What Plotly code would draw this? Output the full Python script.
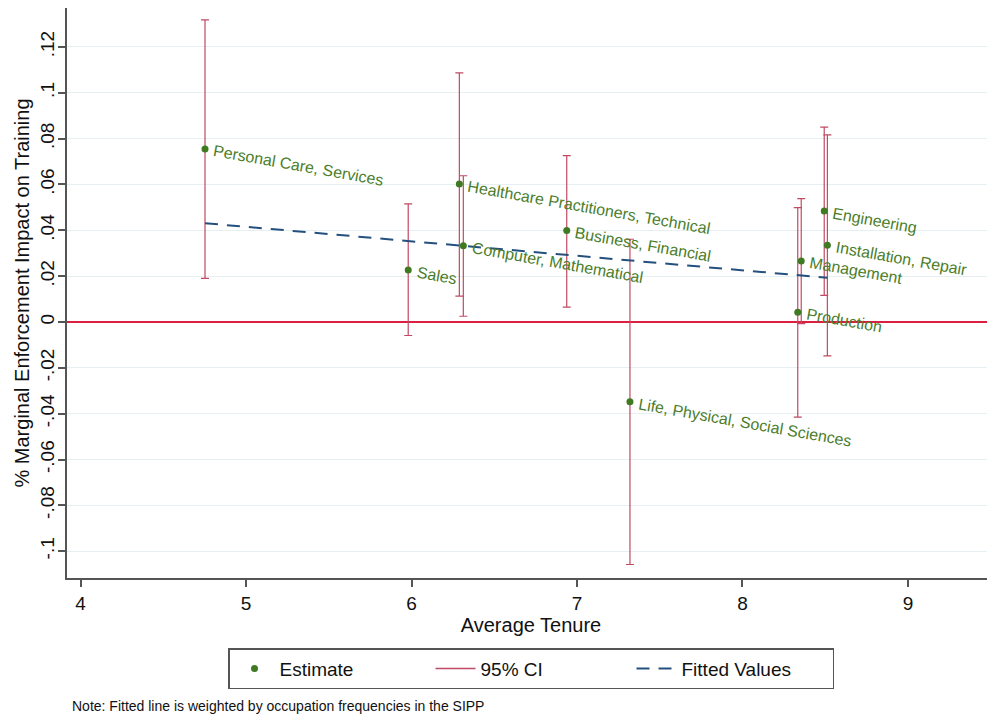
import plotly.graph_objects as go

occupations = ["Personal Care, Services", "Sales", "Healthcare Practitioners, Technical",
               "Computer, Mathematical", "Business, Financial", "Life, Physical, Social Sciences",
               "Production", "Management", "Engineering", "Installation, Repair"]
tenure = [4.752, 5.98, 6.289, 6.313, 6.938, 7.32, 8.334, 8.355, 8.494, 8.513]
estimate = [0.0755, 0.0227, 0.0602, 0.0333, 0.0399, -0.0348, 0.0042, 0.0266, 0.0484, 0.0335]
ci_low = [0.0190, -0.0059, 0.0113, 0.0025, 0.0065, -0.1058, -0.0415, -0.0007, 0.0116, -0.0148]
ci_high = [0.1318, 0.0515, 0.1087, 0.0638, 0.0726, 0.0361, 0.0499, 0.0538, 0.0850, 0.0816]
fit_x = [4.752, 8.513]
fit_y = [0.0431, 0.0193]

y_ticks = [-0.1, -0.08, -0.06, -0.04, -0.02, 0, 0.02, 0.04, 0.06, 0.08, 0.1, 0.12]
y_ticktext = ["-.1", "-.08", "-.06", "-.04", "-.02", "0", ".02", ".04", ".06", ".08", ".1", ".12"]
x_ticks = [4, 5, 6, 7, 8, 9]

FONT = "Liberation Sans, Arial, Helvetica, sans-serif"
GREEN = "#3f7a22"
LABEL_GREEN = "#4a7d2a"
CI_COLOR = "#c04a64"
FIT_COLOR = "#23507e"

fig = go.Figure()

# CI caps (rcap)
fig.add_trace(go.Scatter(
    x=tenure, y=estimate, mode="markers",
    marker=dict(size=1, opacity=0),
    error_y=dict(type="data", symmetric=False,
                 array=[h - e for h, e in zip(ci_high, estimate)],
                 arrayminus=[e - l for e, l in zip(estimate, ci_low)],
                 color=CI_COLOR, thickness=1.2, width=4),
    showlegend=False, hoverinfo="skip"))

fig.add_trace(go.Scatter(
    x=tenure, y=estimate, mode="markers", name="Estimate",
    marker=dict(color=GREEN, size=7)))
fig.add_trace(go.Scatter(
    x=[None], y=[None], mode="lines", name="95% CI",
    line=dict(color=CI_COLOR, width=1.5)))
fig.add_trace(go.Scatter(
    x=fit_x, y=fit_y, mode="lines", name="Fitted Values",
    line=dict(color=FIT_COLOR, width=2, dash="13px,9px")))

for name, xv, yv in zip(occupations, tenure, estimate):
    fig.add_annotation(x=xv, y=yv, text=name, showarrow=False,
                       xanchor="left", yanchor="top", textangle=10,
                       xshift=5, yshift=9,
                       font=dict(family=FONT, size=16, color=LABEL_GREEN))

fig.add_annotation(xref="paper", yref="paper", x=0.003, y=-0.225,
                   text="Note: Fitted line is weighted by occupation frequencies in the SIPP",
                   showarrow=False, xanchor="left", yanchor="middle",
                   font=dict(family=FONT, size=14, color="#111111"))

fig.update_layout(
    width=987, height=709,
    margin=dict(l=59, r=0, t=0, b=139),
    paper_bgcolor="white", plot_bgcolor="white",
    font=dict(family=FONT, size=19, color="#111111"),
    legend=dict(orientation="h", x=0.1735, y=-0.123, xanchor="left", yanchor="top",
                bordercolor="#555555", borderwidth=1.5, bgcolor="white",
                font=dict(family=FONT, size=19, color="#111111"),
                itemwidth=40, entrywidth=146, entrywidthmode="pixels"),
    xaxis=dict(range=[3.918, 9.526], tickvals=x_ticks, showgrid=False, zeroline=False,
               showline=True, linecolor="#555555", linewidth=2,
               ticks="outside", ticklen=7, tickcolor="#555555", tickwidth=1.5,
               tickfont=dict(size=19),
               title=dict(text="Average Tenure", font=dict(size=20), standoff=2)),
    yaxis=dict(range=[-0.1117, 0.137], tickvals=y_ticks, ticktext=y_ticktext,
               tickangle=-90, showgrid=True, gridcolor="#e6eff2", gridwidth=1.2,
               zeroline=True, zerolinecolor="#dc1f40", zerolinewidth=1.8,
               showline=True, linecolor="#555555", linewidth=2,
               ticks="outside", ticklen=7, tickcolor="#555555", tickwidth=1.5,
               tickfont=dict(size=19), ticklabelstandoff=-4,
               title=dict(text="% Marginal Enforcement Impact on Training",
                          font=dict(size=20), standoff=2)),
)

fig.write_html("out.html")
